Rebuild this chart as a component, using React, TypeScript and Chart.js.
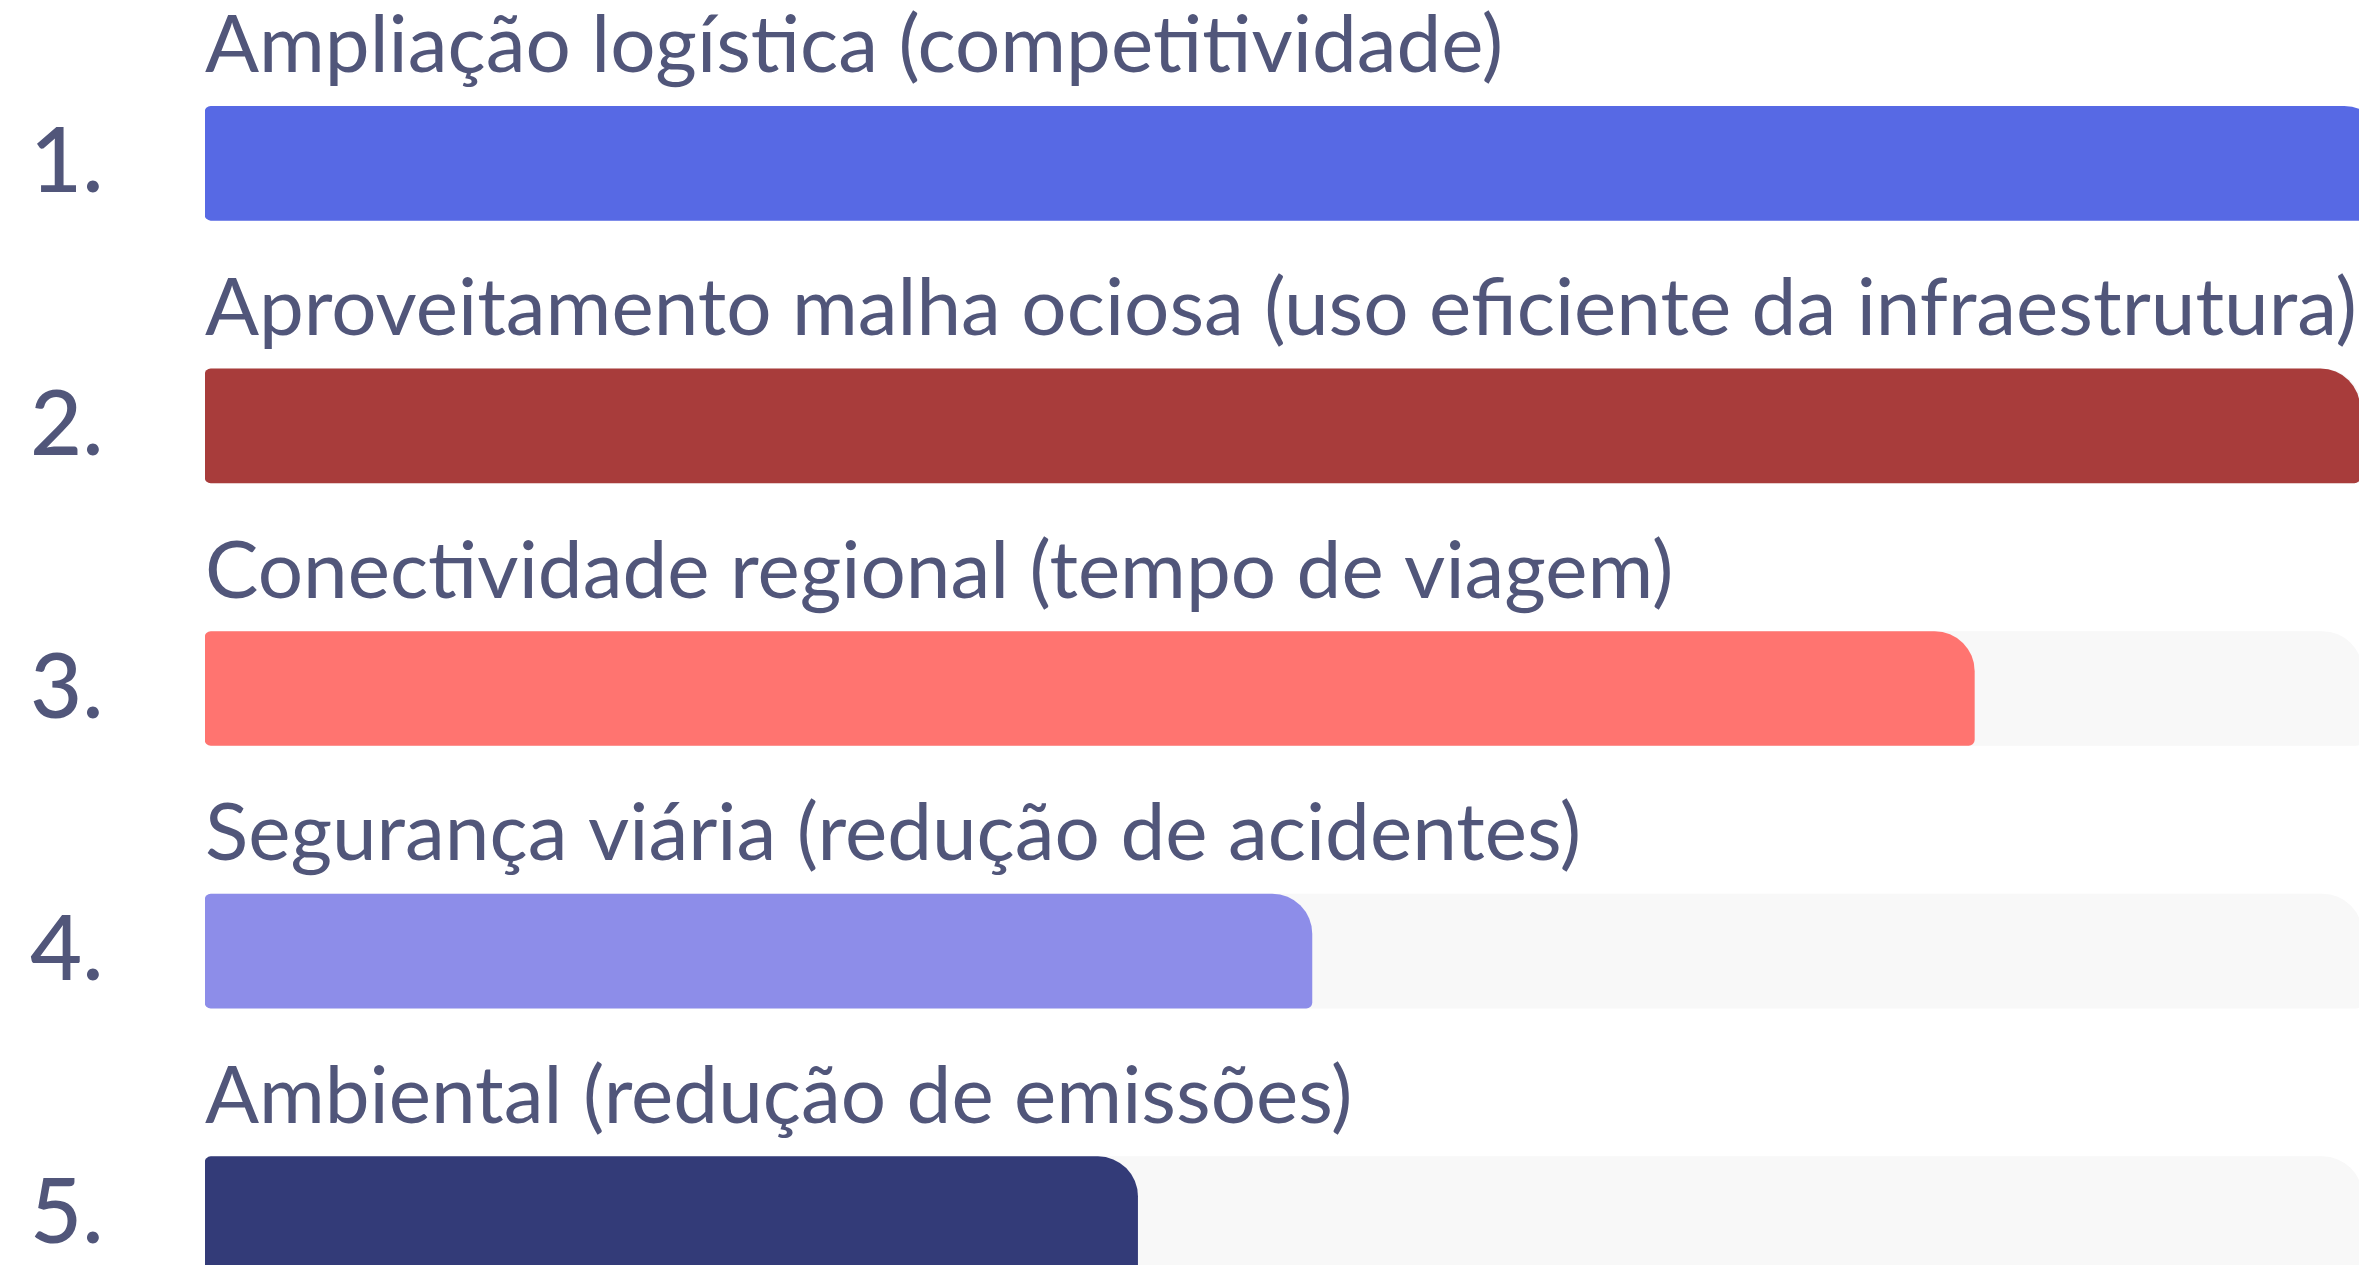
import React, { useEffect, useRef } from "react";
import { Chart, registerables } from "chart.js";

Chart.register(...registerables);

const categories = [
  "Ampliação logística (competitividade)",
  "Aproveitamento malha ociosa (uso eficiente da infraestrutura)",
  "Conectividade regional (tempo de viagem)",
  "Segurança viária (redução de acidentes)",
  "Ambiental (redução de emissões)",
];
const ranks = ["1.", "2.", "3.", "4.", "5."];
const values = [100, 98.9, 81.2, 50.8, 42.8];
const trackValues = [99, 99, 99, 99, 99];
const barColors = ["#5769E4", "#A83C3B", "#FF7470", "#8D8DE9", "#333B78"];
const trackColor = "#F8F8F8";
const textColor = "#51567A";

const W = 2384;
const H = 1345;

const labelPlugin = {
  id: "labelsAbove",
  afterDatasetsDraw(chart: any) {
    const meta = chart.getDatasetMeta(0);
    const ctx = chart.ctx;
    ctx.save();
    ctx.fillStyle = textColor;
    ctx.font = "400 80px Lato";
    ctx.textAlign = "left";
    ctx.textBaseline = "alphabetic";
    meta.data.forEach((bar: any, i: number) => {
      const top = bar.y - bar.height / 2;
      ctx.fillText(categories[i], chart.chartArea.left, top - 34);
    });
    ctx.restore();
  },
};

export default function App() {
  const ref = useRef<HTMLCanvasElement | null>(null);
  useEffect(() => {
    if (!ref.current) return;
    const radius = { topLeft: 6, bottomLeft: 6, topRight: 40, bottomRight: 6 };
    const chart = new Chart(ref.current, {
      type: "bar",
      data: {
        labels: categories,
        datasets: [
          {
            data: values,
            backgroundColor: barColors,
            borderRadius: radius,
            borderSkipped: false,
            barThickness: 114,
            grouped: false,
          } as any,
          {
            data: trackValues,
            backgroundColor: trackColor,
            borderRadius: radius,
            borderSkipped: false,
            barThickness: 114,
            grouped: false,
          } as any,
        ],
      },
      options: {
        indexAxis: "y",
        responsive: false,
        animation: false,
        devicePixelRatio: 1,
        layout: { padding: { left: 30, top: 32, right: 0, bottom: 0 } },
        plugins: { legend: { display: false }, tooltip: { enabled: false } },
        scales: {
          x: { display: false, min: 0, max: 100 },
          y: {
            grid: { display: false },
            border: { display: false },
            afterFit(scale: any) {
              scale.width = 175;
              scale.paddingTop = 0;
              scale.paddingBottom = 0;
            },
            ticks: {
              crossAlign: "far",
              padding: 0,
              color: textColor,
              font: { family: "Lato", size: 90, weight: "500", lineHeight: 0.4 },
              callback: (_v: any, i: number) => ranks[i],
            },
          },
        },
      } as any,
      plugins: [labelPlugin],
    });
    return () => chart.destroy();
  }, []);
  return (
    <div style={{ position: "fixed", left: 0, top: 0, width: W, height: H, background: "#ffffff" }}>
      <canvas ref={ref} width={W} height={H} style={{ width: W, height: H, display: "block" }} />
    </div>
  );
}
